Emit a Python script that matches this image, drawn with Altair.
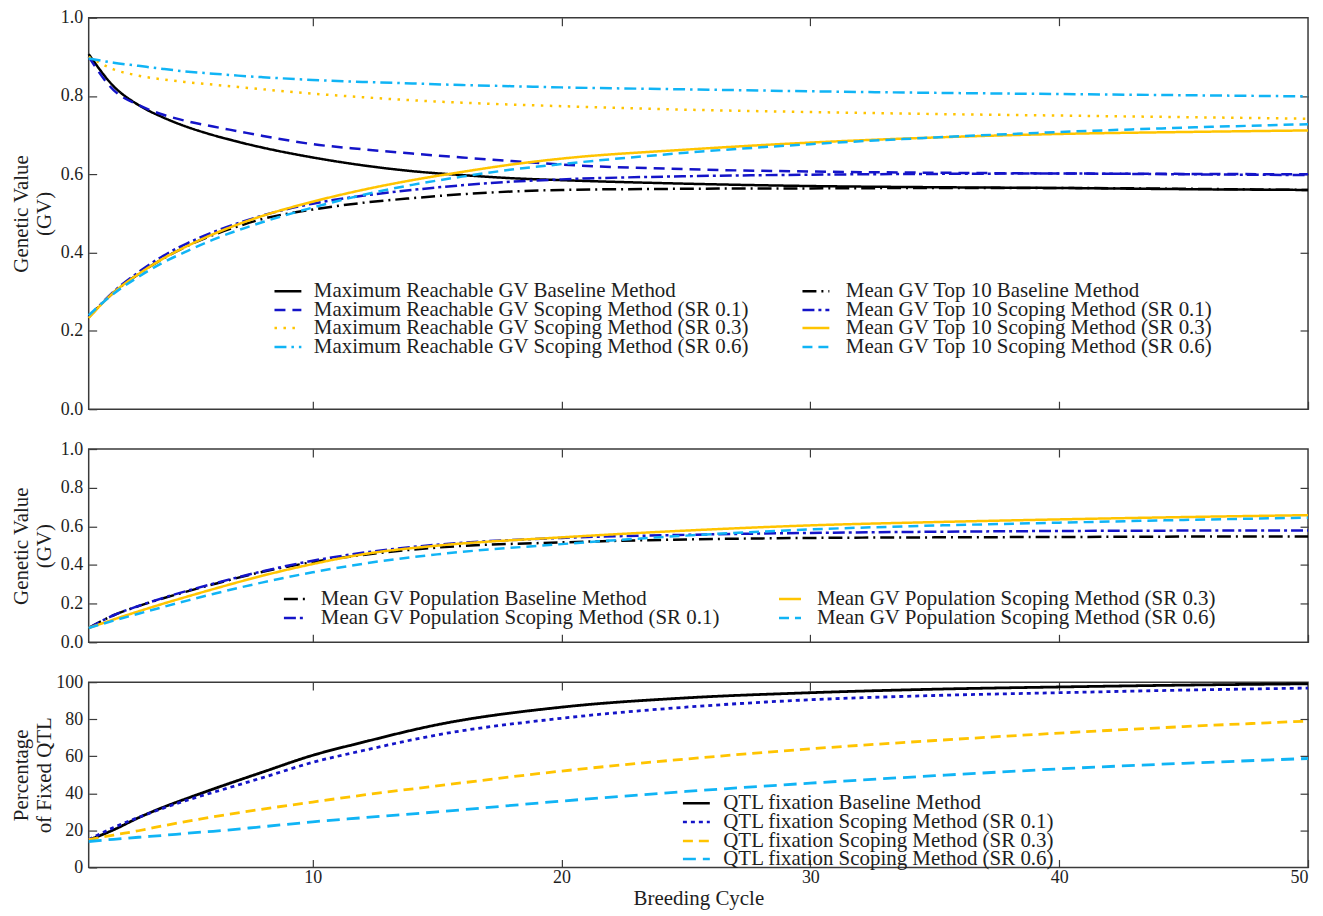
import altair as alt
import pandas as pd

# ---------------- data ----------------
CYCLES_TOP = [1, 2, 3, 4, 5, 6, 7, 8, 10, 12, 14, 16, 18, 20, 25, 30, 35, 40, 45, 50]

max_gv_baseline = [0.907, 0.825, 0.777, 0.745, 0.720, 0.700, 0.683, 0.668, 0.643, 0.623, 0.608,
                   0.598, 0.590, 0.585, 0.576, 0.570, 0.567, 0.565, 0.562, 0.560]
max_gv_sr01 = [0.900, 0.815, 0.777, 0.752, 0.735, 0.722, 0.710, 0.698, 0.677, 0.664, 0.653,
               0.643, 0.634, 0.625, 0.613, 0.607, 0.604, 0.602, 0.601, 0.600]
max_gv_sr03 = [0.900, 0.868, 0.852, 0.842, 0.835, 0.829, 0.823, 0.817, 0.806, 0.797, 0.789,
               0.783, 0.778, 0.774, 0.765, 0.759, 0.754, 0.750, 0.746, 0.742]
max_gv_sr06 = [0.896, 0.885, 0.877, 0.869, 0.862, 0.857, 0.852, 0.848, 0.841, 0.836, 0.832,
               0.828, 0.825, 0.822, 0.817, 0.812, 0.808, 0.805, 0.802, 0.799]

top10_baseline = [0.235, 0.298, 0.345, 0.385, 0.418, 0.445, 0.467, 0.486, 0.510, 0.527, 0.539,
                  0.549, 0.556, 0.560, 0.563, 0.564, 0.565, 0.565, 0.563, 0.560]
top10_sr01 = [0.235, 0.300, 0.350, 0.392, 0.425, 0.452, 0.475, 0.495, 0.525, 0.545, 0.560,
              0.572, 0.581, 0.587, 0.595, 0.599, 0.601, 0.602, 0.600, 0.598]
top10_sr03 = [0.233, 0.298, 0.345, 0.385, 0.418, 0.447, 0.472, 0.494, 0.530, 0.560, 0.585,
              0.606, 0.625, 0.640, 0.663, 0.681, 0.694, 0.703, 0.708, 0.712]
top10_sr06 = [0.240, 0.295, 0.338, 0.375, 0.405, 0.433, 0.457, 0.478, 0.515, 0.547, 0.573,
              0.594, 0.612, 0.626, 0.655, 0.677, 0.694, 0.708, 0.719, 0.728]

CYCLES_MID = [1, 2, 3, 4, 5, 6, 8, 10, 12, 15, 20, 25, 30, 35, 40, 45, 50]

pop_baseline = [0.074, 0.140, 0.187, 0.228, 0.265, 0.300, 0.365, 0.415, 0.452, 0.490, 0.517,
                0.532, 0.540, 0.543, 0.545, 0.547, 0.548]
pop_sr01 = [0.074, 0.140, 0.188, 0.230, 0.268, 0.303, 0.368, 0.422, 0.463, 0.505, 0.540,
            0.556, 0.566, 0.572, 0.576, 0.578, 0.579]
pop_sr03 = [0.074, 0.118, 0.160, 0.200, 0.238, 0.275, 0.345, 0.405, 0.455, 0.500, 0.543,
            0.578, 0.605, 0.622, 0.636, 0.648, 0.658]
pop_sr06 = [0.074, 0.112, 0.148, 0.183, 0.217, 0.250, 0.310, 0.362, 0.406, 0.455, 0.508,
            0.552, 0.584, 0.604, 0.619, 0.633, 0.645]

CYCLES_QTL = [1, 2, 3, 4, 5, 6, 8, 10, 12, 15, 20, 25, 30, 35, 40, 45, 50]

qtl_baseline = [14.8, 20.3, 26.8, 32.5, 37.5, 42.3, 51.5, 60.5, 67.5, 77.0, 86.5, 91.5, 94.3,
                96.2, 97.4, 98.4, 99.1]
qtl_sr01 = [15.0, 21.5, 27.0, 32.0, 36.5, 40.5, 48.5, 56.7, 63.0, 71.5, 80.5, 86.5, 90.5,
            92.8, 94.3, 95.7, 96.8]
qtl_sr03 = [15.0, 17.5, 19.8, 22.5, 25.0, 27.3, 31.5, 35.3, 39.0, 44.0, 52.0, 58.5, 64.0,
            68.5, 72.5, 76.0, 79.0]
qtl_sr06 = [14.0, 15.2, 16.3, 17.3, 18.5, 19.5, 22.0, 24.6, 26.8, 30.0, 35.8, 41.0, 45.5,
            49.5, 53.2, 56.2, 58.8]

MAX_NAMES = ["Maximum Reachable GV Baseline Method",
             "Maximum Reachable GV Scoping Method (SR 0.1)",
             "Maximum Reachable GV Scoping Method (SR 0.3)",
             "Maximum Reachable GV Scoping Method (SR 0.6)"]
TOP_NAMES = ["Mean GV Top 10 Baseline Method",
             "Mean GV Top 10 Scoping Method (SR 0.1)",
             "Mean GV Top 10 Scoping Method (SR 0.3)",
             "Mean GV Top 10 Scoping Method (SR 0.6)"]
POP_NAMES = ["Mean GV Population Baseline Method",
             "Mean GV Population Scoping Method (SR 0.1)",
             "Mean GV Population Scoping Method (SR 0.3)",
             "Mean GV Population Scoping Method (SR 0.6)"]
QTL_NAMES = ["QTL fixation Baseline Method",
             "QTL fixation Scoping Method (SR 0.1)",
             "QTL fixation Scoping Method (SR 0.3)",
             "QTL fixation Scoping Method (SR 0.6)"]

GV_TICKS = [0.0, 0.2, 0.4, 0.6, 0.8, 1.0]
QTL_TICKS = [0, 20, 40, 60, 80, 100]
X_TICKS = [10, 20, 30, 40, 50]

# ---------------- styling ----------------
FONT = "Liberation Serif"
TXT = "#1e1e1e"
FRAME = "#3a3a3a"
BLACK, BLUE, GOLD, SKY = "#000000", "#1414c8", "#ffc400", "#10b4f5"
COLORS = [BLACK, BLUE, GOLD, SKY]

DASH_MAX = [[1, 0], [11, 7], [2.5, 6.5], [12, 5, 2.5, 5]]
DASH_MEAN = [[14, 5, 2, 5], [12, 4, 3, 4], [1, 0], [10, 6]]
DASH_QTL = [[1, 0], [4, 4], [10, 6], [13, 7]]

W = 1224
H1, H2, H3 = 393, 194, 186


def legend(x, y, half, off):
    return alt.Legend(title=None, orient="none", legendX=x, legendY=y,
                      symbolType=f"M-{half},0H{half}", symbolSize=361,
                      symbolStrokeWidth=2.5, symbolFillColor="transparent",
                      labelFont=FONT, labelFontSize=21, labelColor=TXT,
                      labelOffset=off, labelLimit=0, padding=0)


def x_bottom(labels, title=None):
    kw = dict(orient="bottom", values=X_TICKS, domain=False, grid=False, tickSize=8,
              offset=-8, tickColor=FRAME, tickWidth=1.2, labels=labels, labelFlush=True,
              labelFont=FONT, labelFontSize=18, labelColor=TXT, labelPadding=1)
    if title:
        kw.update(title=title, titleFont=FONT, titleFontSize=21, titleFontWeight="normal",
                  titleColor=TXT, titlePadding=1)
    else:
        kw.update(title=None)
    return alt.Axis(**kw)


def y_left(values, fmt, title):
    return alt.Axis(orient="left", values=values, format=fmt, domain=False, grid=False,
                    tickSize=8, offset=-8, tickColor=FRAME, tickWidth=1.2,
                    labelFont=FONT, labelFontSize=18, labelColor=TXT, labelPadding=6,
                    minExtent=41, maxExtent=41,
                    title=title, titleFont=FONT, titleFontSize=21, titleFontWeight="normal",
                    titleColor=TXT, titlePadding=1.5, titleLineHeight=23)


X_TOP = alt.Axis(orient="top", values=[10, 20, 30, 40], domain=False, grid=False, tickSize=8,
                 offset=-8, tickColor=FRAME, tickWidth=1.2, labels=False, title=None,
                 minExtent=0, maxExtent=0)


def y_right(values):
    return alt.Axis(orient="right", values=values, domain=False, grid=False, tickSize=8,
                    offset=-8, tickColor=FRAME, tickWidth=1.2, labels=False, title=None,
                    minExtent=0, maxExtent=0)


XS = alt.Scale(domain=[1, 50], nice=False, zero=False)


def series(cycles, values, name, color, dash, leg, yscale, xaxis=None, yaxis=None, width=2.5):
    df = pd.DataFrame({"cycle": cycles, "value": values, "series": name})
    return alt.Chart(df).mark_line(strokeWidth=width, interpolate="monotone").encode(
        x=alt.X("cycle:Q", scale=XS, axis=xaxis),
        y=alt.Y("value:Q", scale=yscale, axis=yaxis),
        color=alt.Color("series:N", scale=alt.Scale(domain=[name], range=[color]), legend=leg),
        strokeDash=alt.StrokeDash("series:N", scale=alt.Scale(domain=[name], range=[dash]),
                                  legend=leg),
        order="cycle:Q",
    )


def ghost(cycles, values, yscale, yvalues):
    df = pd.DataFrame({"cycle": cycles, "value": values})
    return alt.Chart(df).mark_line(opacity=0).encode(
        x=alt.X("cycle:Q", scale=XS, axis=X_TOP),
        y=alt.Y("value:Q", scale=yscale, axis=y_right(yvalues)),
    )


def panel(layers, h):
    return alt.layer(*layers).resolve_scale(
        color="independent", strokeDash="independent"
    ).resolve_axis(x="independent", y="independent").properties(width=W, height=h)


GVS = alt.Scale(domain=[0, 1], nice=False, zero=False)
QS = alt.Scale(domain=[0, 100], nice=False, zero=False)

# ---------- panel 1 ----------
P1_ROWS = [263.5, 282.5, 300.5, 319.5]
max_vals = [max_gv_baseline, max_gv_sr01, max_gv_sr03, max_gv_sr06]
top_vals = [top10_baseline, top10_sr01, top10_sr03, top10_sr06]
layers1 = []
for i in range(4):
    layers1.append(series(
        CYCLES_TOP, max_vals[i], MAX_NAMES[i], COLORS[i], DASH_MAX[i],
        legend(189, P1_ROWS[i], 1.42, 15), GVS,
        x_bottom(False) if i == 0 else None,
        y_left(GV_TICKS, ".1f", ["Genetic Value", "(GV)"]) if i == 0 else None))
for i in range(4):
    layers1.append(series(
        CYCLES_TOP, top_vals[i], TOP_NAMES[i], COLORS[i], DASH_MEAN[i],
        legend(719, P1_ROWS[i], 1.42, 19), GVS))
layers1.append(ghost(CYCLES_TOP, max_gv_baseline, GVS, [0.2, 0.4, 0.6, 0.8]))
p1 = panel(layers1, H1)

# ---------- panel 2 ----------
pop_vals = [pop_baseline, pop_sr01, pop_sr03, pop_sr06]
P2_POS = [(196, 139.5), (196, 158.5), (693, 139.5), (693, 158.5)]
P2_OFF = [15, 15, 16, 16]
layers2 = []
for i in range(4):
    layers2.append(series(
        CYCLES_MID, pop_vals[i], POP_NAMES[i], COLORS[i], DASH_MEAN[i],
        legend(P2_POS[i][0], P2_POS[i][1], 1.16, P2_OFF[i]), GVS,
        x_bottom(False) if i == 0 else None,
        y_left(GV_TICKS, ".1f", ["Genetic Value", "(GV)"]) if i == 0 else None))
layers2.append(ghost(CYCLES_MID, pop_baseline, GVS, [0.2, 0.4, 0.6, 0.8]))
p2 = panel(layers2, H2)

# ---------- panel 3 ----------
qtl_vals = [qtl_baseline, qtl_sr01, qtl_sr03, qtl_sr06]
P3_ROWS = [110.5, 129.5, 148.5, 166.5]
layers3 = []
for i in range(4):
    layers3.append(series(
        CYCLES_QTL, qtl_vals[i], QTL_NAMES[i], COLORS[i], DASH_QTL[i],
        legend(599, P3_ROWS[i], 1.42, 16), QS,
        x_bottom(True, "Breeding Cycle") if i == 0 else None,
        y_left(QTL_TICKS, "d", ["Percentage", "of Fixed QTL"]) if i == 0 else None,
        width=2.8))
layers3.append(ghost(CYCLES_QTL, qtl_baseline, QS, [20, 40, 60, 80]))
p3 = panel(layers3, H3)

chart = alt.vconcat(p1, p2, p3, spacing=20).resolve_scale(
    color="independent", strokeDash="independent"
).properties(
    padding={"left": 1, "top": -2, "right": 0, "bottom": 0}, background="white"
).configure_view(stroke=FRAME, strokeWidth=1.5)

chart.save("out.html", embed_options={"renderer": "svg", "actions": False})
